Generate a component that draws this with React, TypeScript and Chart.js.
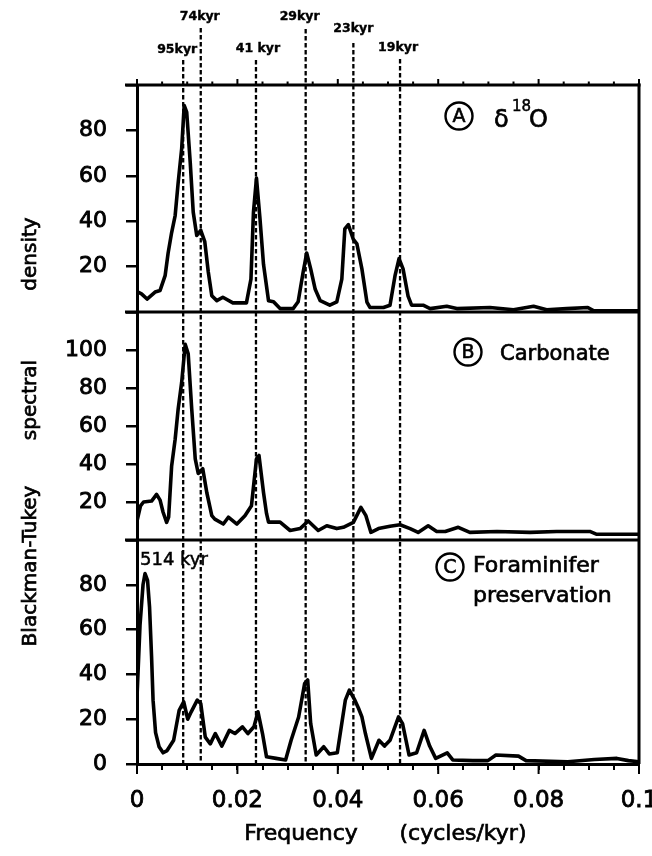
import React, { useEffect, useRef } from 'react';
import { Chart, registerables } from 'chart.js';

Chart.register(...registerables);

// ---------------- data ----------------
const freqA = [0, 0.0009, 0.002, 0.0036, 0.0046, 0.0056, 0.0062, 0.0069, 0.0076, 0.0082, 0.0089, 0.0094, 0.0099, 0.0106, 0.0112, 0.0119, 0.0127, 0.0135, 0.0142, 0.0149, 0.0159, 0.0171, 0.0191, 0.0218, 0.0227, 0.0232, 0.0238, 0.0245, 0.0252, 0.0262, 0.0272, 0.0285, 0.0311, 0.0321, 0.0331, 0.0338, 0.0346, 0.0355, 0.0365, 0.0384, 0.0398, 0.0408, 0.0414, 0.0421, 0.0431, 0.0438, 0.0448, 0.0458, 0.0464, 0.0491, 0.0504, 0.0514, 0.0522, 0.053, 0.054, 0.0547, 0.057, 0.0584, 0.0617, 0.0637, 0.0703, 0.075, 0.079, 0.0816, 0.0856, 0.0898, 0.091, 0.1];
const psdA = [9, 8, 5.7, 8.8, 9.5, 16, 26, 35, 42.5, 57, 72, 91, 88, 66, 44, 33.7, 36, 31, 17.6, 7.2, 5, 6.5, 4, 4, 14.5, 44, 59, 41, 21, 5, 4.5, 1.5, 1.5, 4.5, 17.6, 26, 19, 10, 5, 3, 4.5, 14.5, 36.6, 38.5, 32, 30, 19, 4.4, 2, 2, 3, 16, 23.5, 19, 7, 3, 3, 1.5, 2.5, 1.5, 2, 1, 2.5, 1, 1.5, 2, 0.5, 0.5];

const freqB = [0, 0.0007, 0.0013, 0.0029, 0.0039, 0.0046, 0.0052, 0.0059, 0.0063, 0.0069, 0.0076, 0.0082, 0.0089, 0.0096, 0.0102, 0.0109, 0.0116, 0.0122, 0.0131, 0.0139, 0.0149, 0.0155, 0.0172, 0.0182, 0.0199, 0.0215, 0.0228, 0.0238, 0.0243, 0.0252, 0.0258, 0.0262, 0.0285, 0.0305, 0.0325, 0.0341, 0.0361, 0.0378, 0.0398, 0.0411, 0.0431, 0.0446, 0.0456, 0.0466, 0.0481, 0.0504, 0.0524, 0.0544, 0.056, 0.058, 0.0597, 0.0614, 0.064, 0.0663, 0.0717, 0.0783, 0.0836, 0.0902, 0.0916, 0.1];
const psdB = [10, 18, 20, 20.5, 24, 21, 14.6, 9.3, 12, 39, 53, 69, 83, 103, 98, 69, 42.7, 35, 37.5, 25, 12.8, 11, 8.4, 12, 8.4, 12.8, 18, 42.7, 44.5, 25, 14, 9.4, 9.4, 5, 6, 10, 5, 7.5, 6, 6.7, 9.3, 17.2, 12.8, 4, 6, 7.2, 8, 6, 4, 7.5, 4.5, 4.5, 6.7, 4, 4.5, 4, 4.5, 4.5, 3, 3];

const freqC = [0, 0.0006, 0.0012, 0.0016, 0.0021, 0.0025, 0.0029, 0.0032, 0.0037, 0.0044, 0.0052, 0.006, 0.0073, 0.0084, 0.0093, 0.0101, 0.0108, 0.012, 0.0127, 0.0136, 0.0146, 0.0156, 0.0169, 0.0184, 0.0195, 0.021, 0.0221, 0.0233, 0.0241, 0.025, 0.0258, 0.0277, 0.0296, 0.0307, 0.0322, 0.0334, 0.034, 0.0346, 0.0357, 0.0372, 0.0383, 0.0399, 0.0415, 0.0423, 0.0434, 0.0441, 0.0448, 0.0455, 0.0467, 0.0482, 0.0493, 0.0504, 0.0521, 0.0529, 0.0542, 0.0557, 0.0572, 0.0583, 0.0595, 0.0618, 0.0629, 0.0669, 0.0699, 0.0715, 0.076, 0.0775, 0.0858, 0.0911, 0.0956, 0.0979, 0.1];
const psdC = [30, 62, 80, 85, 82, 70, 48, 28.5, 14, 7.7, 5, 6, 10.6, 24, 27.8, 20, 23.3, 28.5, 27, 12, 9, 13.6, 8, 15, 13.6, 16.6, 13.6, 16.6, 23.3, 13.6, 3.2, 2.5, 1.8, 10.6, 21, 36, 37.5, 18, 4, 7.7, 4.5, 5, 28.5, 33, 28.5, 25, 21, 13.6, 2.5, 10.6, 8, 10.6, 21, 18, 4, 5, 15, 8, 2.5, 5, 1.8, 1.5, 1.5, 4, 3.5, 1.5, 1, 2, 2.5, 1.5, 1];

const xTickLabels = ['0', '0.02', '0.04', '0.06', '0.08', '0.1'];
const yTickLabelsA = [20, 40, 60, 80];
const yTickLabelsB = [20, 40, 60, 80, 100];
const yTickLabelsC = [0, 20, 40, 60, 80];

const periodLabels = ['95kyr', '74kyr', '41 kyr', '29kyr', '23kyr', '19kyr'];
const periodFreqs = [0.0092, 0.0127, 0.0237, 0.0336, 0.0431, 0.0524];

const panelLetters = ['A', 'B', 'C'];
const peakNote = '514 kyr';
const yTitleWords = ['Blackman-Tukey', 'spectral', 'density'];
const xTitleWords = ['Frequency', '(cycles/kyr)'];

// ---------------- layout / style ----------------
const FONT = '"DejaVu Sans", sans-serif';
const periodLabelPos = [
  { dx: -6, y: 50, top: 60 },
  { dx: -1, y: 17, top: 28 },
  { dx: 2, y: 49, top: 60 },
  { dx: -6, y: 17, top: 29 },
  { dx: 0, y: 29, top: 43 },
  { dx: -2, y: 48, top: 59 },
];

const pts = (f: number[], v: number[]) => f.map((x, i) => ({ x, y: v[i] }));

function line(ctx: CanvasRenderingContext2D, x1: number, y1: number, x2: number, y2: number) {
  ctx.beginPath();
  ctx.moveTo(x1, y1);
  ctx.lineTo(x2, y2);
  ctx.stroke();
}

function text(ctx: CanvasRenderingContext2D, s: string, x: number, y: number, stroke = 0.7) {
  ctx.fillText(s, x, y);
  if (stroke > 0) {
    ctx.save();
    ctx.lineWidth = stroke;
    ctx.setLineDash([]);
    ctx.strokeText(s, x, y);
    ctx.restore();
  }
}

function circled(ctx: CanvasRenderingContext2D, letter: string, cx: number, cy: number) {
  ctx.save();
  ctx.lineWidth = 2.4;
  ctx.beginPath();
  ctx.arc(cx, cy, 13.5, 0, Math.PI * 2);
  ctx.stroke();
  ctx.font = `19px ${FONT}`;
  ctx.textAlign = 'center';
  ctx.textBaseline = 'middle';
  text(ctx, letter, cx, cy + 1, 0.6);
  ctx.restore();
}

const overlay = {
  id: 'overlay',
  beforeDatasetsDraw(chart: any) {
    const { ctx, chartArea: ca, scales } = chart;
    const x = scales.x;
    ctx.save();
    ctx.strokeStyle = '#000';
    ctx.lineWidth = 2.3;
    ctx.setLineDash([4.5, 2.5]);
    periodFreqs.forEach((f, i) => {
      const px = x.getPixelForValue(f);
      line(ctx, px, periodLabelPos[i].top, px, ca.bottom);
    });
    ctx.restore();
  },
  afterDraw(chart: any) {
    const { ctx, chartArea: ca, scales } = chart;
    const x = scales.x;
    ctx.save();
    ctx.strokeStyle = '#000';
    ctx.fillStyle = '#000';
    ctx.lineWidth = 3;
    // frame
    line(ctx, ca.left - 12, ca.top, ca.right + 1.5, ca.top);
    line(ctx, ca.right, ca.top - 1.5, ca.right, ca.bottom);
    line(ctx, ca.left - 12, scales.yB.top, ca.right, scales.yB.top);
    line(ctx, ca.left - 12, scales.yC.top, ca.right, scales.yC.top);
    // tick marks on top frame and longer major ticks at bottom
    ctx.lineWidth = 2;
    x.ticks.forEach((t: any) => {
      const px = x.getPixelForValue(t.value);
      const major = t.label !== '';
      line(ctx, px, ca.top, px, ca.top - (major ? 6 : 3.5));
      if (major) line(ctx, px, ca.bottom, px, ca.bottom + 10);
    });

    // period labels
    ctx.font = `bold 12.5px ${FONT}`;
    ctx.textAlign = 'center';
    ctx.textBaseline = 'middle';
    periodLabels.forEach((lab, i) => {
      const px = x.getPixelForValue(periodFreqs[i]);
      text(ctx, lab, px + periodLabelPos[i].dx, periodLabelPos[i].y, 0.4);
    });

    // panel A label
    circled(ctx, panelLetters[0], 459, 116);
    ctx.textAlign = 'left';
    ctx.textBaseline = 'alphabetic';
    ctx.font = `24px ${FONT}`;
    text(ctx, 'δ', 494, 127);
    ctx.font = `15px ${FONT}`;
    text(ctx, '18', 512, 111, 0.5);
    ctx.font = `24px ${FONT}`;
    text(ctx, 'O', 529, 127);

    // panel B label
    circled(ctx, panelLetters[1], 468, 352);
    ctx.font = `21px ${FONT}`;
    text(ctx, 'Carbonate', 500, 360);

    // panel C label
    circled(ctx, panelLetters[2], 450, 567);
    ctx.font = `22px ${FONT}`;
    text(ctx, 'Foraminifer', 473, 572);
    text(ctx, 'preservation', 473, 602);

    // 514 kyr note
    ctx.font = `18px ${FONT}`;
    text(ctx, peakNote, 140, 565, 0.5);

    // y title
    ctx.font = `20px ${FONT}`;
    ctx.textAlign = 'center';
    ctx.textBaseline = 'middle';
    const yCenters = [566, 400, 254];
    yTitleWords.forEach((w, i) => {
      ctx.save();
      ctx.translate(31, yCenters[i]);
      ctx.rotate(-Math.PI / 2);
      text(ctx, w, 0, 0);
      ctx.restore();
    });

    // x title
    ctx.font = `22px ${FONT}`;
    text(ctx, xTitleWords[0], 301, 834);
    text(ctx, xTitleWords[1], 463, 834);
    ctx.restore();
  },
};

function yAxis(max: number, weight: number, order: number, shown: number[]) {
  return {
    type: 'linear',
    position: 'left',
    stack: 'panels',
    stackWeight: weight,
    weight: order,
    min: 0,
    max,
    ticks: {
      stepSize: 20,
      autoSkip: false,
      color: '#000',
      font: { family: FONT, size: 22 },
      textStrokeColor: '#000',
      textStrokeWidth: 0.9,
      padding: 19,
      callback: (v: number) => (shown.includes(v) ? String(v) : ''),
    },
    grid: {
      display: true,
      drawOnChartArea: false,
      drawTicks: true,
      tickLength: 11,
      color: '#000',
      lineWidth: 2.5,
    },
    border: { display: true, color: '#000', width: 3 },
    afterFit: (s: any) => {
      s.width = 137;
      s.paddingTop = 0;
      s.paddingBottom = 0;
    },
  };
}

export default function App() {
  const ref = useRef<HTMLCanvasElement>(null);
  useEffect(() => {
    const canvas = ref.current!;
    const ds = (f: number[], v: number[], id: string) => ({
      data: pts(f, v),
      yAxisID: id,
      borderColor: '#000',
      borderWidth: 3.6,
      borderJoinStyle: 'round',
      borderCapStyle: 'round',
      pointRadius: 0,
      fill: false,
      tension: 0,
    });
    const chart = new Chart(canvas, {
      type: 'line',
      data: {
        datasets: [ds(freqA, psdA, 'yA'), ds(freqB, psdB, 'yB'), ds(freqC, psdC, 'yC')],
      },
      options: {
        animation: false,
        responsive: false,
        devicePixelRatio: 1,
        layout: { padding: { top: 85, right: 13, bottom: 0, left: 0 } },
        plugins: { legend: { display: false }, tooltip: { enabled: false } },
        scales: {
          x: {
            type: 'linear',
            position: 'bottom',
            min: 0,
            max: 0.1,
            ticks: {
              stepSize: 0.005,
              maxTicksLimit: 40,
              autoSkip: false,
              maxRotation: 0,
              color: '#000',
              font: { family: FONT, size: 23 },
              textStrokeColor: '#000',
              textStrokeWidth: 0.8,
              padding: 17,
              callback: (v: number) => {
                const k = Math.round(v * 1000);
                return k % 20 === 0 ? xTickLabels[k / 20] : '';
              },
            },
            grid: {
              display: true,
              drawOnChartArea: false,
              drawTicks: true,
              tickLength: 6,
              color: '#000',
              lineWidth: 2,
            },
            border: { display: true, color: '#000', width: 3 },
            afterFit: (s: any) => {
              s.height = 92;
              s.paddingLeft = 0;
              s.paddingRight = 0;
            },
          },
          yA: yAxis(100, 227, 3, yTickLabelsA),
          yB: yAxis(120, 228, 2, yTickLabelsB),
          yC: yAxis(100, 224, 1, yTickLabelsC),
        } as any,
      },
      plugins: [overlay],
    } as any);
    return () => chart.destroy();
  }, []);

  return (
    <div style={{ position: 'fixed', left: 0, top: 0, width: 652, height: 856, background: '#fff' }}>
      <canvas ref={ref} width={652} height={856} style={{ display: 'block', width: 652, height: 856 }} />
    </div>
  );
}
